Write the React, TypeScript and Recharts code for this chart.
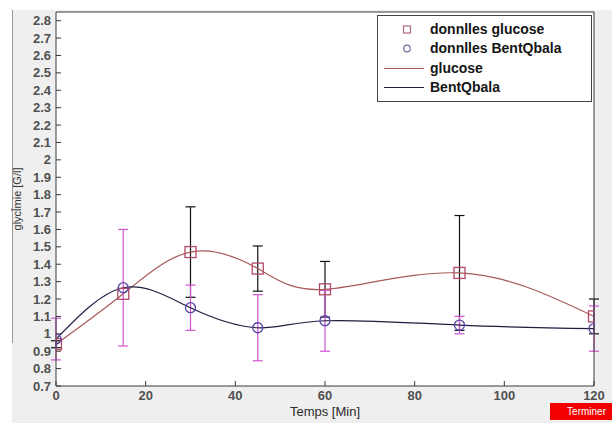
import React from "react";
import {
  ComposedChart,
  Line,
  Scatter,
  ErrorBar,
  XAxis,
  YAxis,
  CartesianGrid,
  Legend,
} from "recharts";

// temps (min)
const times = [0, 15, 30, 45, 60, 90, 120];

// glycémie moyenne + écart-type
const glucose = [0.94, 1.23, 1.47, 1.375, 1.256, 1.35, 1.1];
const glucoseErr = [0.02, 0, 0.26, 0.13, 0.16, 0.33, 0.1];
const bentQbala = [0.97, 1.265, 1.15, 1.035, 1.075, 1.05, 1.03];
const bentQbalaErr = [0.12, 0.335, 0.13, 0.19, 0.175, 0.05, 0.13];

const xTicks = [0, 20, 40, 60, 80, 100, 120];
const yTicks = [
  0.7, 0.8, 0.9, 1, 1.1, 1.2, 1.3, 1.4, 1.5, 1.6, 1.7, 1.8, 1.9, 2, 2.1, 2.2,
  2.3, 2.4, 2.5, 2.6, 2.7, 2.8,
];

const legendItems = [
  { label: "donnlles glucose", kind: "square" },
  { label: "donnlles BentQbala", kind: "circle" },
  { label: "glucose", kind: "line", color: "#a85a5a" },
  { label: "BentQbala", kind: "line", color: "#1e1e40" },
];

const gluData = times.map((t, i) => ({ x: t, y: glucose[i], err: glucoseErr[i] }));
const bentData = times.map((t, i) => ({ x: t, y: bentQbala[i], err: bentQbalaErr[i] }));

const FONT = "'Liberation Sans', Arial, sans-serif";
const tickStyle = { fontSize: 13, fill: "#505050", fontFamily: FONT, fontWeight: "bold" };

const SquareMarker = (p: any) => (
  <rect x={p.cx - 5.5} y={p.cy - 5.5} width={11} height={11} fill="none" stroke="#b04a66" strokeWidth={1.3} />
);
const CircleMarker = (p: any) => (
  <circle cx={p.cx} cy={p.cy} r={5} fill="none" stroke="#5a46a8" strokeWidth={1.3} />
);

const YLabel = (props: any) => {
  const vb = props.viewBox || { y: 0, height: 0 };
  const cy = vb.y + vb.height / 2;
  return (
    <text
      x={18}
      y={cy}
      transform={`rotate(-90, 18, ${cy})`}
      textAnchor="middle"
      dominantBaseline="middle"
      fontSize={11}
      fontFamily={FONT}
      fill="#333"
    >
      glycl̄mie [G/l]
    </text>
  );
};

const LegendBox = () => (
  <div
    style={{
      width: 215,
      height: 87,
      boxSizing: "border-box",
      border: "1px solid #444",
      background: "#fff",
      position: "relative",
      fontFamily: FONT,
    }}
  >
    {legendItems.map((it, i) => (
      <div key={it.label} style={{ position: "absolute", top: 4 + i * 19.3, left: 0, height: 19, width: "100%" }}>
        <svg width={50} height={19} style={{ position: "absolute", left: 0, top: 0 }}>
          {it.kind === "square" && (
            <rect x={25.5} y={6} width={7} height={7} fill="none" stroke="#b06a7a" strokeWidth={1.2} />
          )}
          {it.kind === "circle" && <circle cx={29} cy={9.5} r={3.3} fill="none" stroke="#7a6a9a" strokeWidth={1.2} />}
          {it.kind === "line" && <line x1={6} x2={46} y1={9.5} y2={9.5} stroke={it.color} strokeWidth={1} />}
        </svg>
        <span
          style={{
            position: "absolute",
            left: 52,
            top: 0,
            lineHeight: "19px",
            fontSize: 14,
            fontWeight: "bold",
            color: "#151515",
            whiteSpace: "nowrap",
          }}
        >
          {it.label}
        </span>
      </div>
    ))}
  </div>
);

export default function App() {
  return (
    <div
      style={{
        position: "absolute",
        left: 0,
        top: 0,
        width: 612,
        height: 423,
        background: "#ffffff",
        overflow: "hidden",
      }}
    >
      <div style={{ position: "absolute", left: 12, top: 10, width: 600, height: 413, background: "#efefef" }} />
      <div style={{ position: "absolute", left: 12, top: 10, width: 1, height: 333, background: "#9a9a9a" }} />
      <div style={{ position: "absolute", left: 0, top: 0 }}>
        <ComposedChart width={612} height={423} margin={{ top: 11, right: 17, bottom: 0, left: 6 }}>
          <CartesianGrid horizontal={false} vertical={false} fill="#ffffff" />
          <XAxis
            xAxisId="b"
            dataKey="x"
            type="number"
            domain={[0, 120]}
            ticks={xTicks}
            allowDataOverflow
            height={37}
            tickSize={-5}
            tickMargin={10}
            tick={tickStyle}
            stroke="#3a3a3a"
            label={{ value: "Temps [Min]", position: "insideBottom", offset: 7, fontSize: 13, fill: "#2a2a2a", fontFamily: FONT }}
          />
          <XAxis
            xAxisId="t"
            orientation="top"
            dataKey="x"
            type="number"
            domain={[0, 120]}
            ticks={xTicks}
            height={1}
            tickSize={-5}
            tick={false}
            stroke="#3a3a3a"
          />
          <YAxis
            yAxisId="l"
            type="number"
            domain={[0.7, 2.85]}
            ticks={yTicks}
            allowDataOverflow
            width={50}
            tickSize={-5}
            tickMargin={10}
            tick={tickStyle}
            interval={0}
            stroke="#3a3a3a"
            label={<YLabel />}
          />
          <YAxis
            yAxisId="r"
            orientation="right"
            type="number"
            domain={[0.7, 2.85]}
            ticks={yTicks}
            width={1}
            tickSize={-5}
            tick={false}
            interval={0}
            stroke="#3a3a3a"
          />
          <Scatter
            data={gluData}
            dataKey="y"
            xAxisId="b"
            yAxisId="l"
            shape={SquareMarker}
            isAnimationActive={false}
          >
            <ErrorBar dataKey="err" direction="y" width={5} stroke="#111" strokeWidth={1.2} isAnimationActive={false} />
          </Scatter>
          <Scatter
            data={bentData}
            dataKey="y"
            xAxisId="b"
            yAxisId="l"
            shape={CircleMarker}
            isAnimationActive={false}
          >
            <ErrorBar dataKey="err" direction="y" width={5} stroke="#d055d0" strokeWidth={1.2} isAnimationActive={false} />
          </Scatter>
          <Line
            data={gluData}
            dataKey="y"
            xAxisId="b"
            yAxisId="l"
            type="natural"
            stroke="#a85a5a"
            strokeWidth={1.2}
            dot={false}
            activeDot={false}
            isAnimationActive={false}
          />
          <Line
            data={bentData}
            dataKey="y"
            xAxisId="b"
            yAxisId="l"
            type="natural"
            stroke="#1e1e40"
            strokeWidth={1.2}
            dot={false}
            activeDot={false}
            isAnimationActive={false}
          />
          <Legend
            layout="horizontal"
            verticalAlign="middle"
            align="center"
            content={() => <LegendBox />}
            wrapperStyle={{ position: "absolute", left: 377, top: 15, width: 215, height: 87 }}
          />
        </ComposedChart>
      </div>
      <div
        style={{
          position: "absolute",
          left: 550,
          top: 403,
          width: 62,
          height: 17,
          background: "#f20000",
          color: "#fff",
          fontFamily: FONT,
          fontSize: 10,
          lineHeight: "17px",
          textAlign: "right",
          paddingRight: 6,
          boxSizing: "border-box",
        }}
      >
        Terminer
      </div>
    </div>
  );
}
